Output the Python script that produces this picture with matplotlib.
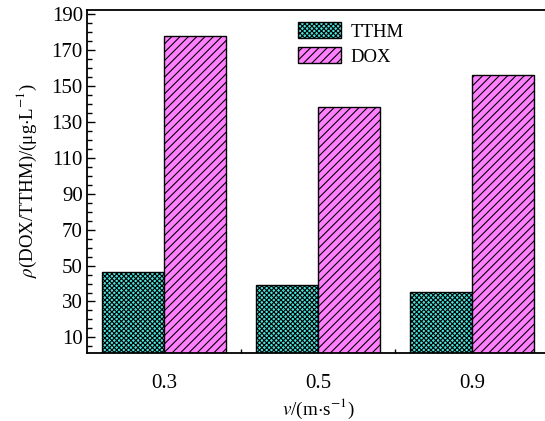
import matplotlib
matplotlib.use("Agg")
import matplotlib.pyplot as plt
import numpy as np
from matplotlib.ticker import MultipleLocator, FixedLocator

categories = ["0.3", "0.5", "0.9"]
tthm = [46.3, 39.4, 35.4]
dox = [178.0, 138.5, 156.3]
series_names = ["TTHM", "DOX"]
yticks = list(range(10, 191, 20))

plt.rcParams['font.family'] = ['Liberation Serif', 'DejaVu Serif']
plt.rcParams['mathtext.fontset'] = 'stix'
plt.rcParams['hatch.linewidth'] = 0.8

fig = plt.figure(figsize=(5.45, 4.21), dpi=100)
ax = fig.add_axes([87/545, (421-352.7)/421, (549-87)/545, (352.7-9.5)/421])

x = np.arange(len(categories))
w = 0.4
ax.bar(x - w/2, tthm, width=w, color='#48e6df', edgecolor='black', linewidth=1.0,
       hatch='xxxxxxx', label=series_names[0])
ax.bar(x + w/2, dox, width=w, color='#ff80ff', edgecolor='black', linewidth=1.0,
       hatch='////', label=series_names[1])

ax.set_xlim(-0.5, 2.5)
ax.set_ylim(1.5, 192.5)
ax.set_yticks(yticks)
ax.yaxis.set_minor_locator(MultipleLocator(5))
ax.set_xticks(x)
ax.set_xticklabels(categories)
ax.xaxis.set_minor_locator(FixedLocator([0.5, 1.5]))
ax.tick_params(axis='y', which='major', direction='in', length=6, width=1, labelsize=15, pad=3)
ax.tick_params(axis='y', which='minor', direction='in', length=3.5, width=1)
ax.tick_params(axis='x', which='major', length=0, labelsize=15, pad=15)
ax.tick_params(axis='x', which='minor', direction='in', length=3, width=1)
for s in ax.spines.values():
    s.set_linewidth(1.3)
ax.spines['right'].set_visible(False)

ax.set_ylabel(r'$\rho$(DOX/TTHM)/(μg$\cdot$L$^{-1}$)', fontsize=13.6, labelpad=9)
ax.set_xlabel(r'$v$/(m$\cdot$s$^{-1}$)', fontsize=13.8, labelpad=3)

ax.legend(loc='upper left', bbox_to_anchor=(0.44, 0.985), frameon=False, fontsize=13.5,
          handlelength=2.3, handleheight=0.95, labelspacing=0.35, handletextpad=0.5,
          borderaxespad=0.0)

fig.savefig('out.png', dpi=100)
